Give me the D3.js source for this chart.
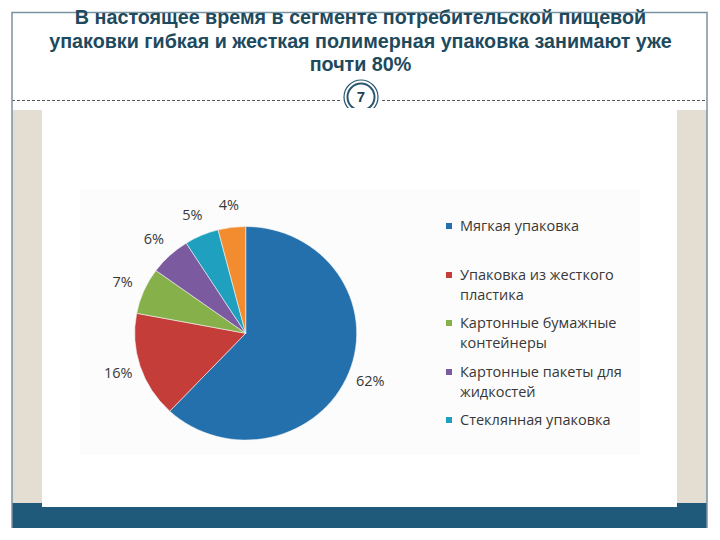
<!DOCTYPE html>
<html><head><meta charset="utf-8">
<script src="https://cdn.jsdelivr.net/npm/d3@7"></script>
<style>html,body{margin:0;padding:0;background:#fff;}svg{display:block;}</style>
</head><body>
<svg id="c" width="720" height="540"></svg>
<script>
const titleLines = ["В настоящее время в сегменте потребительской пищевой",
  "упаковки гибкая и жесткая полимерная упаковка занимают уже",
  "почти 80%"];
const slideNumber = "7";
const categories = ["Мягкая упаковка", "Упаковка из жесткого пластика", "Картонные бумажные контейнеры",
  "Картонные пакеты для жидкостей", "Стеклянная упаковка", "Другое"];
const values = [62, 16, 7, 6, 5, 4];
const valueLabels = ["62%", "16%", "7%", "6%", "5%", "4%"];
const legendLines = [["Мягкая упаковка"], ["Упаковка из жесткого", "пластика"], ["Картонные бумажные", "контейнеры"],
  ["Картонные пакеты для", "жидкостей"], ["Стеклянная упаковка"]];
const colors = ["#2470ad", "#c43d38", "#86b04a", "#7b5aa0", "#1fa0be", "#f28c2e"];

const svg = d3.select("#c");
// frame panels
svg.append("rect").attr("x",12).attr("y",110).attr("width",30).attr("height",395).attr("fill","#e3ddd2");
svg.append("rect").attr("x",677).attr("y",110).attr("width",30).attr("height",395).attr("fill","#e3ddd2");
svg.append("rect").attr("x",12).attr("y",503).attr("width",695).attr("height",25).attr("fill","#205a7a");
// dashed line
svg.append("line").attr("x1",12).attr("x2",342).attr("y1",100.5).attr("y2",100.5)
  .attr("stroke","#555").attr("stroke-width",1).attr("stroke-dasharray","3,2");
svg.append("line").attr("x1",382).attr("x2",707).attr("y1",100.5).attr("y2",100.5)
  .attr("stroke","#555").attr("stroke-width",1).attr("stroke-dasharray","3,2");
// circle
svg.append("circle").attr("cx",361).attr("cy",97).attr("r",17).attr("fill","#fff").attr("stroke","#2b5870").attr("stroke-width",1.2);
svg.append("circle").attr("cx",361).attr("cy",97).attr("r",13.5).attr("fill","#fff").attr("stroke","#2b5870").attr("stroke-width",2);
svg.append("text").attr("x",361).attr("y",102).attr("text-anchor","middle")
  .attr("font-family","'Liberation Sans', Arial, sans-serif").attr("font-weight","bold").attr("font-size",15)
  .attr("fill","#1f3f55").text(slideNumber);
// white chart panel
svg.append("rect").attr("x",42).attr("y",108).attr("width",635).attr("height",399).attr("fill","#ffffff");
svg.append("rect").attr("x",80).attr("y",190).attr("width",560).attr("height",265).attr("fill","#fcfcfc");
// borders
svg.append("path").attr("d","M12,528 L12,12.5 L707,12.5 L707,528").attr("fill","none")
  .attr("stroke","#7a93a1").attr("stroke-width",1.5);

// title
const tg = svg.append("g");
const tfont = "'Liberation Sans Narrow', 'Arial Narrow', 'Liberation Sans', Arial, sans-serif";
const tys = [24, 48, 71];
const texts = titleLines.map((t,i)=> tg.append("text").attr("text-anchor","middle")
    .attr("font-family",tfont).attr("font-weight","bold").attr("font-size",21).attr("fill","#1e4a5e").text(t));
const w2 = texts[1].node().getComputedTextLength();
const sx = 623 / w2;
texts.forEach((el,i)=> el.attr("transform",`translate(360.5,${tys[i]}) scale(${sx},1)`));

// pie
const cx = 245.7, cy = 333.3, R = 111;
const pg = svg.append("g").attr("transform",`translate(${cx},${cy}) scale(1,0.962)`);
const pie = d3.pie().sort(null).value(d=>d)(values);
const arc = d3.arc().innerRadius(0).outerRadius(R);
pg.selectAll("path.s").data(pie).join("path").attr("class","s").attr("d",arc)
  .attr("fill",(d,i)=>colors[i]).attr("stroke","#f4f4f4").attr("stroke-width",0.6);
const larc = d3.arc().innerRadius(134).outerRadius(134);
svg.selectAll("text.lbl").data(pie).join("text").attr("class","lbl")
  .attr("x",d=>cx+larc.centroid(d)[0]).attr("y",d=>cy+larc.centroid(d)[1]*0.962+5)
  .attr("text-anchor","middle").attr("font-family","'Open Sans', sans-serif").attr("font-size",14.5)
  .attr("fill","#383838").text((d,i)=>valueLabels[i]);

// legend
const ly = [226, 275, 323, 372, 420];
const lg = svg.append("g");
legendLines.forEach((lines,i)=>{
  lg.append("rect").attr("x",446).attr("y",ly[i]-3).attr("width",6).attr("height",6).attr("fill",colors[i]);
  lines.forEach((t,j)=>{
    lg.append("text").attr("x",460).attr("y",ly[i]+j*19.5+5).attr("font-family","'Open Sans', sans-serif")
      .attr("font-size",14.5).attr("fill","#383838").text(t);
  });
});
</script>
</body></html>
